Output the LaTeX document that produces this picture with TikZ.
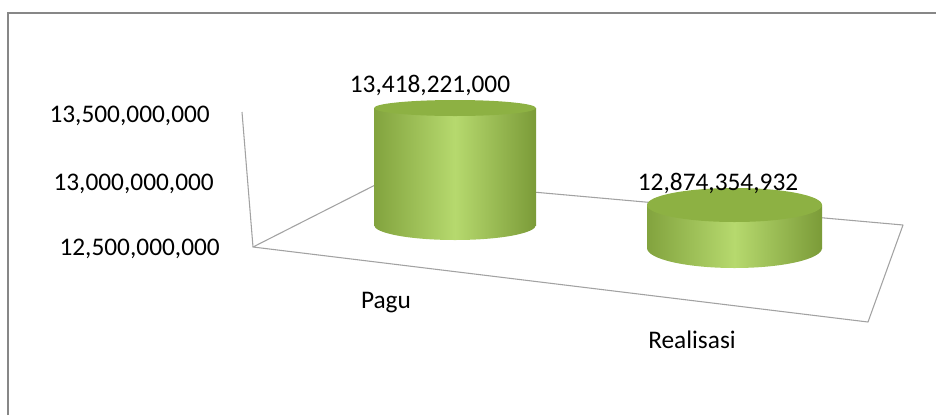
\documentclass[tikz,border=0pt]{standalone}
\usepackage{fontspec}
\setmainfont{Carlito}

% Colours of the cylinders and the chart lines
\definecolor{cylEdgeL}{HTML}{82A33E}
\definecolor{cylEdgeR}{HTML}{7B9B38}
\definecolor{cylLight}{HTML}{B6D96E}
\definecolor{cylTop}{HTML}{8DB143}
\definecolor{frameGray}{HTML}{878787}
\definecolor{gridGray}{HTML}{A2A2A2}

% Cylinder: centre x, radius x, top-centre y, top y-radius, bottom-centre y, bottom y-radius
\newcommand\drawcyl[6]{%
  \shade[left color=cylEdgeL, right color=cylEdgeR, middle color=cylLight]
    ({#1-#2},#3) rectangle ({#1+#2},#5);
  \shade[left color=cylEdgeL, right color=cylEdgeR, middle color=cylLight]
    (#1,#5) ellipse [x radius=#2, y radius=#6];
  \fill[cylTop] (#1,#3) ellipse [x radius=#2, y radius=#4];
}

\begin{document}
\begin{tikzpicture}[x=0.75pt, y=-0.75pt,
  font=\fontsize{19}{22}\selectfont,
  frame/.style={draw=frameGray, line width=1.1pt},
  gridline/.style={draw=gridGray, line width=0.8pt, line join=round},
  ticklabel/.style={anchor=base east, inner sep=0pt},
  valuelabel/.style={anchor=base, inner sep=0pt},
  catlabel/.style={anchor=base, inner sep=0pt}]
\useasboundingbox (0,0) rectangle (936,415);

% chart area frame (left and top edges)
\draw[frame] (8,415) -- (8,13) -- (936,13);

% value axis and floor of the 3-D plot
\coordinate (axisTop) at (242,112);
\coordinate (floorFL) at (253,247);
\coordinate (floorBL) at (387,179);
\coordinate (floorBR) at (903,225);
\coordinate (floorFR) at (868,322);
\draw[gridline] (axisTop) -- (floorFL);
\draw[gridline] (floorFL) -- (floorBL) -- (floorBR) -- (floorFR) -- cycle;

% axis tick labels
\node[ticklabel] (t135) at (210,122) {13,500,000,000};
\node[ticklabel] (t130) at (214,190) {13,000,000,000};
\node[ticklabel] (t125) at (220,255) {12,500,000,000};

% cylinders
\drawcyl{455}{81}{108}{8}{225}{15}
\drawcyl{734.5}{87.5}{205}{17}{248}{20}

% data labels
\node[valuelabel] (vPagu) at (430,92) {13,418,221,000};
\node[valuelabel] (vReal) at (718,190) {12,874,354,932};

% category labels
\node[catlabel] (cPagu) at (386,308) {Pagu};
\node[catlabel] (cReal) at (692,348) {Realisasi};
\end{tikzpicture}
\end{document}
